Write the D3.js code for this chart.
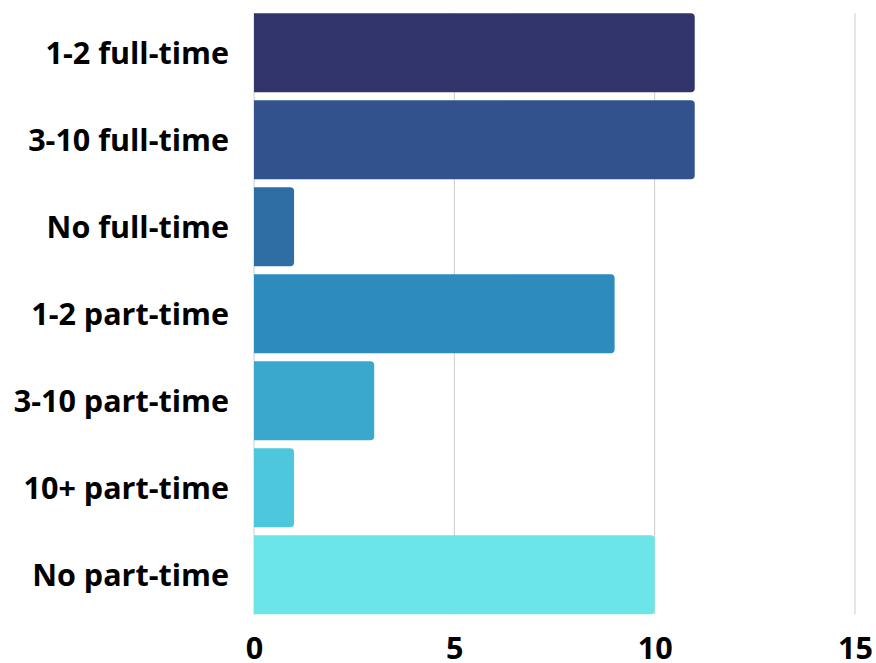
<!DOCTYPE html>
<html>
<head>
<meta charset="utf-8">
<script src="https://cdn.jsdelivr.net/npm/d3@7"></script>
<style>
  html, body { margin: 0; padding: 0; background: #fff; }
  svg { display: block; }
  text { font-family: "Open Sans", "Noto Sans", sans-serif; font-weight: 700; fill: #000; }
</style>
</head>
<body>
<svg id="chart" width="876" height="663"></svg>
<script>
// Staffing categories and counts
const categories = ["1-2 full-time", "3-10 full-time", "No full-time", "1-2 part-time", "3-10 part-time", "10+ part-time", "No part-time"];
const values = [11, 11, 1, 9, 3, 1, 10];
const colors = ["#31356c", "#31528c", "#2e6ea5", "#2d8cbb", "#3aa7cc", "#4dc7dc", "#6ce5e9"];
const xTicks = [0, 5, 10, 15];

const svg = d3.select("#chart");
const plotLeft = 254, plotRight = 855, plotTop = 13.3, plotBottom = 614.3;

const x = d3.scaleLinear().domain([0, 15]).range([plotLeft, plotRight]);
const y = d3.scaleBand().domain(categories).range([plotTop, plotBottom]).paddingInner(0.092).paddingOuter(0);

// Vertical gridlines
svg.append("g").selectAll("line").data(xTicks).join("line")
  .attr("x1", d => x(d)).attr("x2", d => x(d))
  .attr("y1", plotTop).attr("y2", plotBottom)
  .attr("stroke", "#cccccc").attr("stroke-width", 1);

// Bars with rounded right-hand corners
const r = 4;
function barPath(d) {
  const x0 = x(0), x1 = x(d.v), y0 = y(d.c), h = y.bandwidth();
  return `M${x0},${y0}H${x1 - r}Q${x1},${y0} ${x1},${y0 + r}V${y0 + h - r}Q${x1},${y0 + h} ${x1 - r},${y0 + h}H${x0}Z`;
}
svg.append("g").selectAll("path")
  .data(categories.map((c, i) => ({ c, v: values[i], col: colors[i] })))
  .join("path")
  .attr("d", barPath)
  .attr("fill", d => d.col);

// Category labels
const yAxis = d3.axisLeft(y).tickSize(0).tickPadding(25);
const gy = svg.append("g").attr("transform", `translate(${plotLeft},0)`).call(yAxis);
gy.select(".domain").remove();
gy.selectAll("text").style("font-size", "30.5px").attr("dy", "0.36em");

// Value axis labels
const xAxis = d3.axisBottom(x).tickValues(xTicks).tickSize(0).tickPadding(23);
const gx = svg.append("g").attr("transform", `translate(0,${plotBottom})`).call(xAxis);
gx.select(".domain").remove();
gx.selectAll("text").style("font-size", "30.5px");
</script>
</body>
</html>
